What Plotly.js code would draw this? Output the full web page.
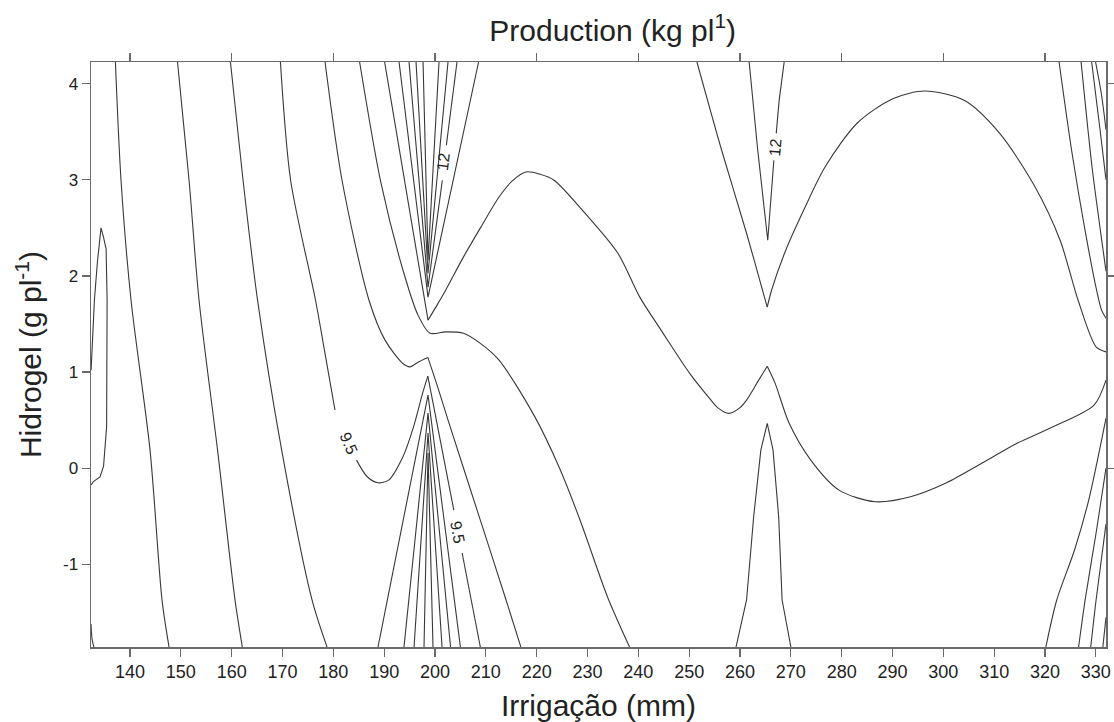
<!DOCTYPE html>
<html>
<head>
<meta charset="utf-8">
<script src="https://cdn.plot.ly/plotly-3.0.1.min.js"></script>
</head>
<body style="margin:0;background:#fff">
<div id="chart" style="width:1114px;height:722px"></div>
<script>
// ---- Contour lines (Irrigação mm, Hidrogel g/pl) ----
const loopX = [132.35, 132.6, 133.0, 133.6, 134.3, 134.8, 135.3, 135.5, 135.5, 135.4, 134.8, 134.1, 132.8, 132.35];
const loopY = [1.02, 1.25, 1.75, 2.15, 2.50, 2.40, 2.28, 1.75, 0.90, 0.43, 0.02, -0.09, -0.14, -0.175];

const cornerX = [132.33, 132.55, 132.9];
const cornerY = [-1.62, -1.78, -1.86];

const cX = [137.13, 138.23, 140.20, 143.94, 146.30, 147.68];
const cY = [4.225, 3.0, 1.75, 0.19, -1.37, -1.86];
const dX = [149.35, 151.61, 153.58, 157.22, 160.66, 162.10];
const dY = [4.225, 3.0, 1.75, 0.19, -1.37, -1.86];
const eX = [159.76, 162.23, 165.09, 169.83, 175.81, 178.76];
const eY = [4.225, 3.0, 1.75, 0.19, -1.37, -1.86];

// 9.5 contour (split at the label gap and at the sharp apex)
const fTopX = [169.59, 171.60, 176.50, 178.25, 180.33];
const fTopY = [4.225, 2.995, 1.747, 1.228, 0.604];
const fValleyX = [184.56, 186.67, 188.77, 190.88, 193.69, 195.78, 197.55, 198.59];
const fValleyY = [0.084, -0.089, -0.152, -0.124, 0.119, 0.430, 0.778, 0.958];
const fArmX = [198.59, 199.50, 201.97, 203.70, null, 205.34, 207.13, 208.92];
const fArmY = [0.958, 0.708, 0.032, -0.436, null, -0.882, -1.371, -1.86];

const gLeftX = [178.37, 181.71, 187.02, 190.17, 193.69, 195.09, 196.66, 198.59];
const gLeftY = [4.225, 2.995, 1.747, 1.332, 1.089, 1.054, 1.103, 1.152];
const gArmX = [198.59, 200.60, 202.57, 208.47, 213.98, 216.89];
const gArmY = [1.152, 0.833, 0.500, -0.467, -1.371, -1.86];

const hX = [185.17, 189.38, 193.71, 196.66, 199.02, 202.09, 205.61, 208.86, 212.60, 219.68, 224.40, 228.53, 233.94, 238.27];
const hY = [4.225, 2.964, 2.059, 1.592, 1.404, 1.418, 1.404, 1.301, 1.124, 0.531, 0.012, -0.539, -1.340, -1.86];

// upper fan near 199 mm
const v1X = [197.65, 198.63, 200.79];
const v1Y = [4.225, 2.163, 4.225];
const v2X = [196.27, 198.63, 202.56];
const v2Y = [4.225, 2.028, 4.225];
const v3X = [194.89, 198.63, 201.44, null, 202.23, 204.33];
const v3Y = [4.225, 1.883, 2.995, null, 3.359, 4.225];
const v4X = [192.93, 198.63, 208.58];
const v4Y = [4.225, 1.779, 4.225];

// long contour: outer fan arm -> hump -> valley -> cusp -> right border
const arcArmX = [190.09, 198.63];
const arcArmY = [4.225, 1.540];
const arcHumpX = [198.63, 200.40, 202.09, 205.61, 209.05, 212.60, 215.15, 217.87, 220.66, 223.42, 229.51, 236.01, 240.26, 244.47, 250.07, 254.30, 255.6, 257.79, 260.0, 261.29, 263.5, 265.36];
const arcHumpY = [1.540, 1.696, 1.851, 2.198, 2.510, 2.821, 2.985, 3.081, 3.057, 2.995, 2.652, 2.233, 1.782, 1.436, 0.989, 0.708, 0.630, 0.570, 0.630, 0.708, 0.900, 1.061];
const arcTailX = [265.36, 266.90, 269.65, 273.92, 279.48, 286.57, 293.55, 300.53, 307.62, 314.60, 321.59, 329.65, 332.0];
const arcTailY = [1.061, 0.885, 0.469, 0.084, -0.228, -0.349, -0.297, -0.155, 0.053, 0.261, 0.430, 0.656, 0.916];

// fan near 265 mm
const rvX = [261.80, 263.49, 265.46, 265.95, 266.66, null, 267.13, 267.70, 268.69];
const rvY = [4.225, 3.307, 2.371, 2.714, 3.203, null, 3.483, 3.826, 4.225];
const domeArmX = [251.53, 256.39, 261.29, 264.79, 265.36];
const domeArmY = [4.225, 3.307, 2.444, 1.782, 1.675];
const domeX = [265.36, 266.21, 269.00, 272.52, 276.73, 283.03, 290.05, 296.37, 304.08, 311.09, 318.05, 322.97, 326.51, 330.05, 332.0];
const domeY = [1.675, 1.851, 2.267, 2.683, 3.133, 3.588, 3.844, 3.923, 3.827, 3.483, 2.925, 2.371, 1.747, 1.262, 1.210];
const lvX = [259.22, 261.29, 262.69, 264.10, 265.36, 266.50, 267.61, 268.28, 270.01];
const lvY = [-1.86, -1.371, -0.505, 0.188, 0.466, 0.188, -0.505, -1.371, -1.86];

// lower fan near 199 mm
const lf1X = [188.79, 198.63, 205.00];
const lf1Y = [-1.86, 0.760, -1.86];
const lf2X = [193.90, 198.63, 203.06];
const lf2Y = [-1.86, 0.573, -1.86];
const lf3X = [195.88, 198.63, 201.39];
const lf3Y = [-1.86, 0.365, -1.86];
const lf4X = [197.84, 198.63, 199.61];
const lf4Y = [-1.86, 0.157, -1.86];

// right edge lines
const r1X = [322.77, 325.23, 327.98, 330.15, 331.13, 332.0];
const r1Y = [4.225, 3.307, 2.444, 1.851, 1.644, 1.56];
const r2X = [327.10, 329.26, 331.43, 332.0];
const r2Y = [4.225, 3.130, 2.267, 2.05];
const r3X = [329.18, 330.84, 332.0];
const r3Y = [4.225, 3.515, 3.0];
const r4X = [329.95, 331.13, 332.0];
const r4Y = [4.225, 3.879, 3.52];
const rb1X = [320.17, 322.31, 325.81, 328.60, 330.73, 332.0];
const rb1Y = [-1.86, -1.371, -0.851, -0.332, 0.188, 0.52];
const rb2X = [326.61, 327.89, 330.05, 332.0];
const rb2Y = [-1.86, -1.371, -0.674, 0.0];
const rb3X = [329.0, 330.05, 332.0];
const rb3Y = [-1.86, -1.371, -0.58];
const rb4X = [331.38, 332.0];
const rb4Y = [-1.86, -1.55];

// contour labels
const labelText = ['12', '12', '9.5', '9.5'];
const labelX = [201.74, 266.90, 183.09, 204.53];
const labelY = [3.185, 3.338, 0.261, -0.664];
const labelAngle = [-83, -85, 67, 79];

// axis ticks
const xTickVals = [140,150,160,170,180,190,200,210,220,230,240,250,260,270,280,290,300,310,320,330];
const xTopTickVals = [140,160,180,200,220,240,260,280,300,320];
const yTickVals = [4,3,2,1,0,-1];
const yTickText = ['4','3','2','1','0','-1'];
const yRightTickVals = [4,2,0];

const xTitle = 'Irrigação (mm)';
const yTitle = 'Hidrogel (g pl<sup>-1</sup>)';
const topTitle = 'Production (kg pl<sup>1</sup>)';

// ---- build ----
const S = 'spline', L = 'linear';
const lines = [
  [loopX, loopY, L], [cX, cY, S], [dX, dY, S], [eX, eY, S],
  [fTopX, fTopY, S], [fValleyX, fValleyY, S], [fArmX, fArmY, L],
  [gLeftX, gLeftY, S], [gArmX, gArmY, S], [hX, hY, S],
  [v1X, v1Y, L], [v2X, v2Y, L], [v3X, v3Y, L], [v4X, v4Y, L],
  [arcArmX, arcArmY, L], [arcHumpX, arcHumpY, S], [arcTailX, arcTailY, S],
  [rvX, rvY, L], [domeArmX, domeArmY, S], [domeX, domeY, S], [lvX, lvY, L],
  [lf1X, lf1Y, L], [lf2X, lf2Y, L], [lf3X, lf3Y, L], [lf4X, lf4Y, L],
  [r1X, r1Y, S], [r2X, r2Y, S], [r3X, r3Y, S], [r4X, r4Y, S],
  [rb1X, rb1Y, S], [rb2X, rb2Y, S], [rb3X, rb3Y, S], [rb4X, rb4Y, S]
];
const lineColor = '#383838';
const traces = lines.map(p => ({
  type: 'scatter', mode: 'lines', x: p[0], y: p[1],
  line: {color: lineColor, width: 1.1, shape: p[2], smoothing: 0.8}, connectgaps: false,
  hoverinfo: 'skip', showlegend: false
}));
traces.push({
  type: 'scatter', mode: 'lines', x: cornerX, y: cornerY, xaxis: 'x2', yaxis: 'y2',
  line: {color: lineColor, width: 1.1, shape: 'spline'}, hoverinfo: 'skip', showlegend: false
});

const FONT = 'Liberation Sans, Arial, sans-serif';
const axisColor = '#6a6a6a';
const xRange = [132.33, 332.0];
const yRange = [-1.86, 4.225];

const annotations = labelText.map((t, i) => ({
  x: labelX[i], y: labelY[i], xref: 'x', yref: 'y', text: t, showarrow: false,
  textangle: labelAngle[i], font: {family: FONT, size: 16, color: '#222'}
}));

const layout = {
  width: 1114, height: 722,
  margin: {l: 91, r: 8, t: 62, b: 75, pad: 0},
  paper_bgcolor: '#fff', plot_bgcolor: '#fff',
  showlegend: false,
  title: {
    text: topTitle, xref: 'paper', x: 0.514, xanchor: 'center',
    yref: 'container', y: 0.958, yanchor: 'middle',
    font: {family: FONT, size: 30, color: '#222'}
  },
  xaxis: {
    range: xRange, showgrid: false, zeroline: false,
    showline: true, linecolor: axisColor, linewidth: 1.5, mirror: false,
    ticks: 'outside', ticklen: 8, tickwidth: 1.2, tickcolor: axisColor,
    tickmode: 'array', tickvals: xTickVals,
    tickfont: {family: FONT, size: 18, color: '#222'},
    title: {text: xTitle, standoff: 18, font: {family: FONT, size: 30, color: '#222'}},
    automargin: false
  },
  xaxis2: {
    range: xRange, overlaying: 'x', side: 'top', anchor: 'y2',
    showgrid: false, zeroline: false, showline: true, linecolor: axisColor, linewidth: 1.5,
    ticks: 'outside', ticklen: 8, tickwidth: 1.2, tickcolor: axisColor,
    tickmode: 'array', tickvals: xTopTickVals, showticklabels: false
  },
  yaxis: {
    range: yRange, showgrid: false, zeroline: false,
    showline: true, linecolor: axisColor, linewidth: 1.5,
    ticks: 'outside', ticklen: 8, tickwidth: 1.2, tickcolor: axisColor,
    tickmode: 'array', tickvals: yTickVals, ticktext: yTickText,
    tickfont: {family: FONT, size: 17, color: '#222'},
    title: {text: yTitle, standoff: 12, font: {family: FONT, size: 30, color: '#222'}},
    automargin: false
  },
  yaxis2: {
    range: yRange, overlaying: 'y', side: 'right', anchor: 'x2',
    showgrid: false, zeroline: false, showline: true, linecolor: axisColor, linewidth: 1.5,
    ticks: 'outside', ticklen: 7, tickwidth: 1.2, tickcolor: axisColor,
    tickmode: 'array', tickvals: yRightTickVals, showticklabels: false
  },
  annotations: annotations
};

Plotly.newPlot('chart', traces, layout, {displayModeBar: false, staticPlot: true});
</script>
</body>
</html>
